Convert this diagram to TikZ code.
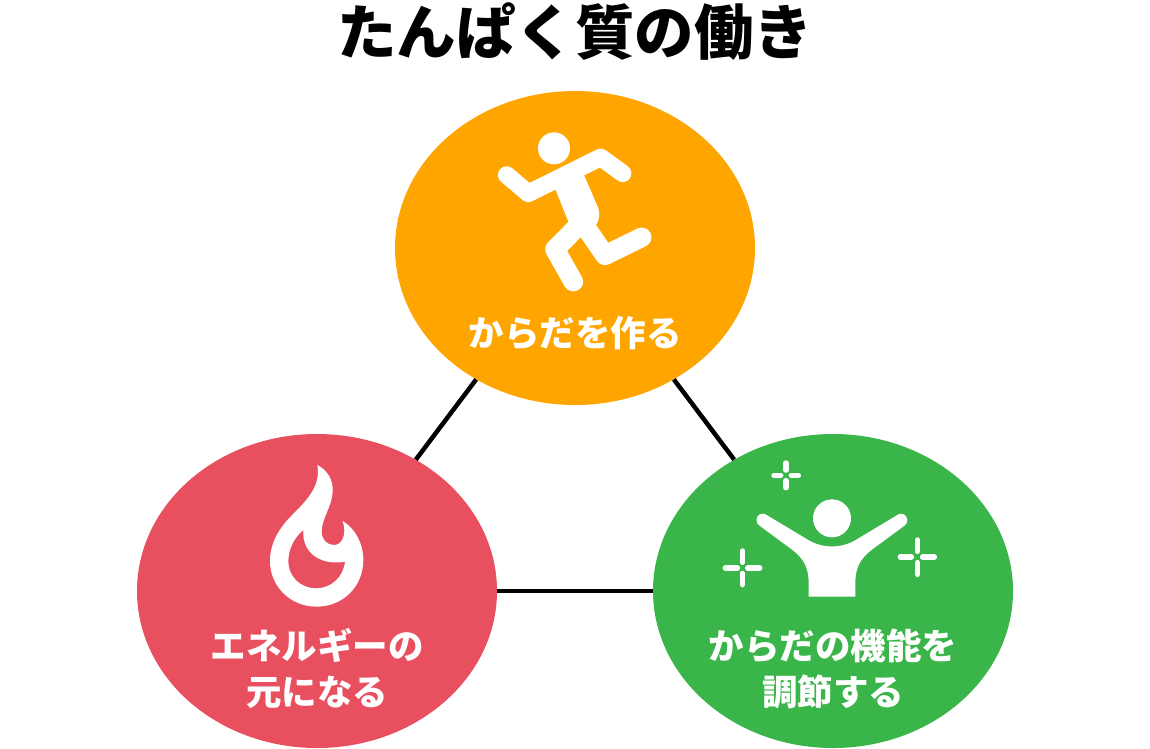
\documentclass[tikz,border=0pt]{standalone}
\usepackage{fontspec}
\usetikzlibrary{shapes.geometric}
\newfontfamily\jp{Noto Sans CJK JP}
\definecolor{orangec}{HTML}{FFA500}
\definecolor{redc}{HTML}{E85060}
\definecolor{greenc}{HTML}{3AB54A}
\tikzset{
  blob/.style={ellipse,inner sep=0pt,minimum width=360pt,minimum height=314pt},
  link/.style={draw=black,line width=4.5pt},
  lab/.style={text=white,font=\jp\bfseries\fontsize{35.5}{46}\selectfont,align=center,inner sep=0pt},
  ttl/.style={text=black,font=\jp\bfseries\fontsize{59.5}{62}\selectfont,inner sep=0pt},
  limb/.style={draw=white,line join=round,line cap=round},
  petal/.style={draw=white,line cap=round,line width=5.5pt}
}
\begin{document}
\begin{tikzpicture}[x=1pt,y=-1pt]
\useasboundingbox (0,0) rectangle (1150,748);
\fill[white] (0,0) rectangle (1150,748);
\node[blob,fill=orangec] (top) at (575,248) {};
\node[blob,fill=redc] (left) at (317,591) {};
\node[blob,fill=greenc] (right) at (833,591) {};
\draw[link] (top) -- (left);
\draw[link] (top) -- (right);
\draw[link] (left) -- (right);
\node[ttl] (title) at (575,32) {たんぱく質の働き};
\node[lab] (l1) at (575,333) {からだを作る};
\node[lab] (l2) at (317,669) {エネルギーの\\元になる};
\node[lab] (l3) at (833,669) {からだの機能を\\調節する};
% runner
\begin{scope}[shift={(470,120)},x=0.3333pt,y=-0.3333pt]
\fill[white] (252,85) circle (48);
\draw[limb,line width=17.5pt] (110,165) -- (175,220) -- (392,112) -- (458,160);
\fill[white] (255,205) -- (340,160) -- (382,258) .. controls (392,280) and (388,300) .. (378,316) -- (335,352) -- (295,305) -- cycle;
\draw[limb,line width=19.6pt] (310,485) -- (255,388) -- (330,312);
\draw[limb,line width=19.6pt] (515,352) -- (405,406) -- (350,326);
\end{scope}
% flame
\begin{scope}[shift={(240,455)},x=0.3333pt,y=-0.3333pt]
\fill[white,even odd rule]
 (232,30) .. controls (262,45) and (280,75) .. (278,110)
 .. controls (276,155) and (245,190) .. (245,230)
 .. controls (245,255) and (262,270) .. (282,270)
 .. controls (305,270) and (322,240) .. (308,198)
 .. controls (345,220) and (370,265) .. (370,315)
 .. controls (370,395) and (308,455) .. (230,455)
 .. controls (152,455) and (90,395) .. (90,318)
 .. controls (90,270) and (112,228) .. (145,192)
 .. controls (190,145) and (245,100) .. (232,30) -- cycle
 (190,225) .. controls (160,250) and (145,285) .. (145,320)
 .. controls (145,365) and (182,400) .. (228,400)
 .. controls (272,400) and (310,368) .. (315,320)
 .. controls (250,332) and (185,300) .. (190,225) -- cycle;
\end{scope}
% raised arms figure
\begin{scope}[shift={(710,450)},x=0.3333pt,y=-0.3333pt]
\fill[white] (366,205) circle (57);
\fill[white] (165,192) .. controls (158,189) and (148,191) .. (142,200)
 .. controls (137,210) and (140,222) .. (150,228)
 -- (245,298) .. controls (280,325) and (296,350) .. (296,400)
 -- (296,440) -- (436,440) -- (436,400)
 .. controls (436,350) and (452,325) .. (487,298)
 -- (582,228) .. controls (592,222) and (595,210) .. (589,200)
 .. controls (583,191) and (573,189) .. (567,192)
 -- (432,273) .. controls (390,295) and (342,295) .. (300,273) -- cycle;
\draw[petal] (228,39) -- (228,60) (228,92) -- (228,113) (192,76) -- (212,76) (244,76) -- (265,76);
\draw[petal] (97,303) -- (97,337) (97,370) -- (97,404) (46,354) -- (82,354) (113,354) -- (149,354);
\draw[petal] (622,270) -- (622,304) (622,338) -- (622,373) (571,321) -- (604,321) (638,321) -- (673,321);
\end{scope}
\end{tikzpicture}
\end{document}
